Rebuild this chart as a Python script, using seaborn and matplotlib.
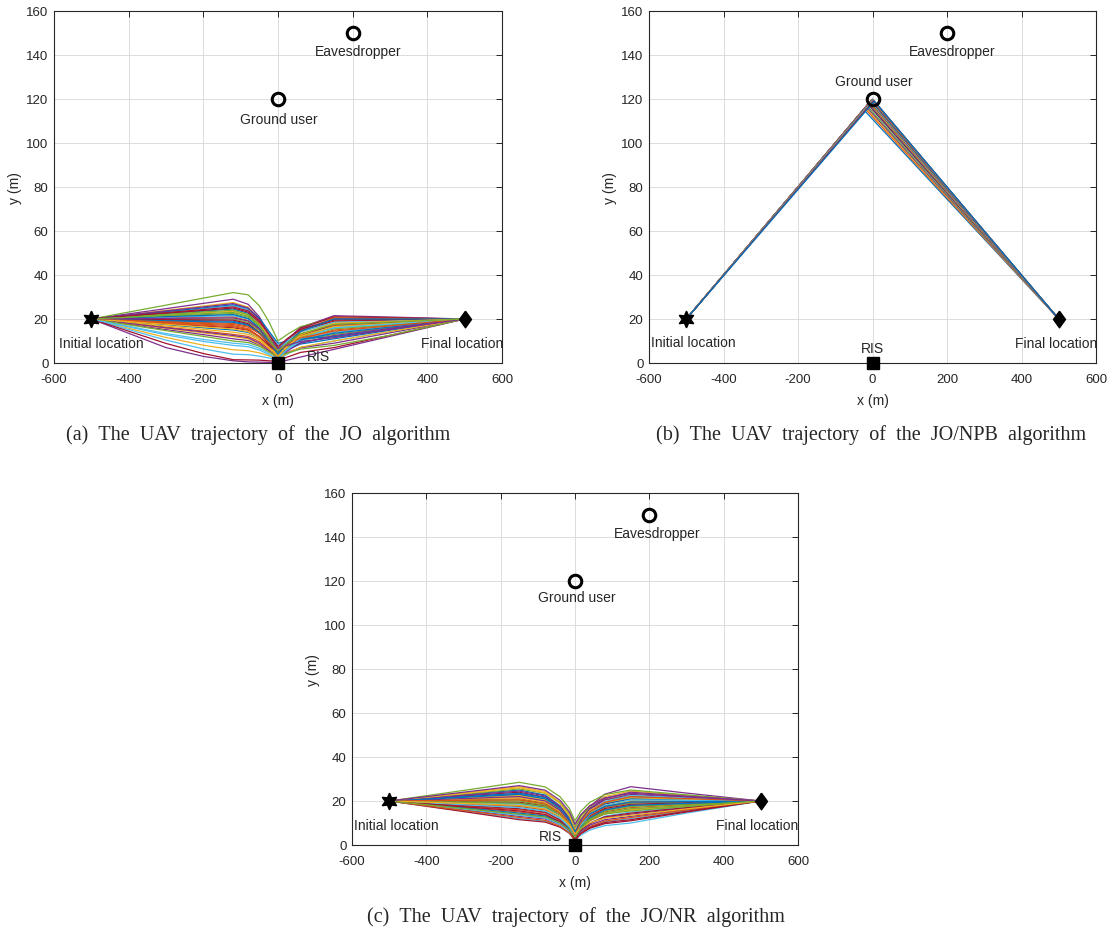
import numpy as np
import pandas as pd
import matplotlib
matplotlib.use("Agg")
import matplotlib.pyplot as plt
import seaborn as sns

sns.set_theme(style="white")
plt.rcParams["font.family"] = ["Liberation Sans", "DejaVu Sans"]
plt.rcParams["axes.unicode_minus"] = False

# ---------------- data ----------------
MATLAB_COLORS = ["#0072BD", "#D95319", "#EDB120", "#7E2F8E", "#77AC30", "#4DBEEE", "#A2142F"]

initial_location = (-500, 20)
final_location = (500, 20)
ris_location = (0, 0)
ground_user = (0, 120)
eavesdropper = (200, 150)

x_ticks = [-600, -400, -200, 0, 200, 400, 600]
y_ticks = [0, 20, 40, 60, 80, 100, 120, 140, 160]

# (a) JO algorithm: sampled trajectory points (x, y in m)
x_jo = [-500, -300, -200, -120, -80, -50, -25, 0, 25, 60, 150, 300, 500]
y_jo = [
    [20, 22.4, 23.6, 24.5, 22.6, 17.7, 11.2, 5, 8.6, 12.8, 17, 18.3, 20],
    [20, 20.5, 20.8, 21, 19.3, 15.1, 9.4, 4, 7, 10.5, 14, 16.6, 20],
    [20, 23.9, 25.9, 27.5, 25.4, 20.3, 13.6, 7, 10.6, 14.8, 19, 19.4, 20],
    [20, 24.7, 27.1, 29, 26.7, 21, 13.4, 6, 10.7, 16.1, 21.5, 20.9, 20],
    [20, 26.3, 29.5, 32, 31, 26, 19, 10, 13, 16.5, 20.5, 20.3, 20],
    [20, 23.2, 24.7, 26, 24.2, 19.7, 13.8, 8, 10.4, 13.2, 16, 17.7, 20],
    [20, 22.6, 23.9, 25, 23.1, 18.4, 12.1, 6, 10.5, 15.8, 21, 20.6, 20],
    [20, 19.5, 19.2, 19, 17.5, 13.8, 8.8, 4, 6.4, 9.2, 12, 15.4, 20],
    [20, 18.4, 17.6, 17, 15.6, 12.1, 7.5, 3, 6.6, 10.8, 15, 17.2, 20],
    [20, 11.6, 8.1, 6, 5.6, 4.6, 3.3, 2, 6.8, 12.4, 18, 18.9, 20],
    [20, 7, 3, 1, 0.5, 0.4, 0.3, 0.3, 1.3, 2.7, 6.2, 12.1, 20],
    [20, 21.3, 22, 22.5, 20.8, 16.4, 10.6, 5, 7.4, 10.2, 13, 16, 20],
    [20, 10.4, 6.4, 4, 3.8, 3.1, 2.3, 1.5, 4.1, 7, 10, 14.3, 20],
    [20, 8.9, 4.3, 1.5, 1.4, 1.3, 1, 0.8, 2.7, 4.8, 7, 12.6, 20],
    [20, 17.4, 16, 15, 13.9, 11.2, 7.5, 4, 6.1, 8.6, 11, 14.9, 20],
    [20, 16.3, 14.5, 13, 12.1, 9.7, 6.5, 3.5, 8.5, 14.2, 20, 20, 20],
    [20, 21.8, 22.8, 23.5, 21.9, 17.7, 12.3, 7, 10.3, 14.2, 18, 18.9, 20],
    [20, 15.2, 12.9, 11, 10.2, 8.2, 5.6, 3, 4.8, 6.9, 9, 13.7, 20],
    [20, 20, 20, 20, 18.5, 14.8, 9.8, 5, 8.3, 12.2, 16, 17.7, 20],
    [20, 13.4, 10.7, 9, 8.4, 6.7, 4.6, 2.5, 6, 10, 14, 16.6, 20],
    [20, 17.9, 16.8, 16, 14.9, 12, 8.2, 4.5, 8.9, 14.6, 19, 19.4, 20],
    [20, 23.4, 25.1, 26.5, 24.8, 20.4, 14.6, 9, 9.9, 11, 12, 15.4, 20],
    [20, 18.9, 18.4, 18, 16.8, 13.8, 9.8, 6, 9.3, 13.2, 17, 18.3, 20],
    [20, 15.8, 13.7, 12, 11, 8.5, 5.2, 2, 4.4, 7.2, 10, 14.3, 20],
    [20, 23.7, 25.5, 27, 25, 19.8, 13.1, 6.5, 10.6, 15.3, 20, 20, 20],
    [20, 22.1, 23.2, 24, 22, 17.2, 10.7, 4.5, 7.8, 11.7, 15.5, 17.4, 20],
    [20, 20.8, 21.2, 21.5, 20, 16.1, 11, 6, 9.8, 14.1, 18.5, 19.1, 20],
    [20, 19.7, 19.6, 19.5, 17.9, 13.9, 8.6, 3.5, 7.7, 12.6, 17.5, 18.6, 20],
    [20, 19.2, 18.8, 18.5, 17.2, 13.8, 9.3, 5, 7.6, 10.5, 13.5, 16.3, 20],
    [20, 18.1, 17.2, 16.5, 15.2, 11.8, 7.3, 3, 8.3, 14.4, 20.5, 20.3, 20],
    [20, 16.8, 15.3, 14, 13, 10.5, 7.2, 4, 7.8, 12.1, 16.5, 18, 20],
    [20, 16, 14.1, 12.5, 11.5, 9, 5.7, 2.5, 5.5, 9, 12.5, 15.7, 20],
    [20, 14.7, 12.1, 10, 9.3, 7.6, 5.2, 3, 4.5, 6.3, 8, 12.6, 20],
    [20, 12.8, 9.8, 8, 7.4, 5.9, 3.9, 2, 6.2, 11.1, 16, 17.7, 20],
    [20, 22.9, 24.3, 25.5, 23.7, 19.2, 13.3, 7.5, 11.1, 15.3, 19.5, 19.7, 20],
    [20, 21.1, 21.6, 22, 20.2, 15.7, 9.8, 4, 8.8, 14.4, 20, 20, 20],
    [20, 18.7, 18, 17.5, 16.3, 13.3, 9.3, 5.5, 8.2, 11.4, 14.5, 16.9, 20],
    [20, 17.6, 16.4, 15.5, 14.3, 11.1, 7, 3, 7.5, 12.8, 18, 18.9, 20],
    [20, 20.3, 20.4, 20.5, 19.1, 15.6, 11, 6.5, 8, 9.8, 11.5, 15.2, 20],
    [20, 21.6, 22.4, 23, 21.3, 16.9, 11.1, 5.5, 9.1, 13.3, 17.5, 18.6, 20],
]

# (b) JO/NPB algorithm: turning points near the ground user
apex_x_npb = [-24, -21, -19, -17, -15, -13, -12, -10, -9, -8, -7, -6, -5, -4, -3, -2, -1, 0, 1, 2, 3, 5]
apex_y_npb = [115.2, 115.8, 116.2, 116.6, 117, 117.4, 117.6, 118, 118.2, 118.4, 118.6, 118.8,
              119, 119.2, 119.4, 119.6, 119.8, 120, 119.7, 119.5, 119.3, 119]

# (c) JO/NR algorithm: sampled trajectory points
x_nr = [-500, -300, -150, -80, -40, -15, 0, 15, 40, 80, 150, 300, 500]
y_nr = [
    [20, 22.9, 25, 22.7, 17.8, 12.1, 6, 10.8, 15.6, 19.6, 22, 21.1, 20],
    [20, 20.6, 21, 19.1, 14.9, 10.1, 5, 8.9, 12.8, 16.1, 18, 18.9, 20],
    [20, 23.7, 26.5, 24.3, 19.5, 13.9, 8, 13, 17.9, 22, 24.5, 22.5, 20],
    [20, 21.7, 23, 20.7, 15.8, 10.1, 4, 10.8, 17.5, 23.1, 26.5, 23.6, 20],
    [20, 24.8, 28.5, 26.4, 21.9, 16.6, 11, 15.2, 19.4, 22.9, 25, 22.8, 20],
    [20, 18.3, 17, 15.3, 11.7, 7.5, 3, 5.7, 8.4, 10.7, 12, 15.6, 20],
    [20, 22.3, 24, 21.7, 16.8, 11.1, 5, 9.8, 14.6, 18.6, 21, 20.6, 20],
    [20, 19.4, 19, 17.2, 13.3, 8.8, 4, 8.8, 13.6, 17.6, 20, 20, 20],
    [20, 17.2, 15, 13.6, 10.6, 7.2, 3.5, 7.3, 11, 14.1, 16, 17.8, 20],
    [20, 21.1, 22, 20.2, 16.3, 11.8, 7, 12, 16.9, 21, 23.5, 21.9, 20],
    [20, 16, 13, 11.8, 9.2, 6.2, 3, 6.3, 9.6, 12.4, 14, 16.7, 20],
    [20, 20.3, 20.5, 18.8, 15, 10.6, 6, 9.9, 13.8, 17.1, 19, 19.5, 20],
    [20, 15.4, 12, 10.8, 8.2, 5.2, 2, 4.4, 6.8, 8.8, 10, 14.5, 20],
    [20, 15.2, 11.5, 10.4, 8.1, 5.4, 2.5, 5.1, 7.6, 9.7, 11, 15, 20],
    [20, 18.9, 18, 16.4, 13.1, 9.2, 5, 10, 14.9, 19, 21.5, 20.8, 20],
    [20, 17.7, 16, 14.6, 11.4, 7.8, 4, 7.9, 11.8, 15.1, 17, 18.4, 20],
    [20, 21.4, 22.5, 20.6, 16.4, 11.6, 6.5, 10.6, 14.6, 18, 20, 20, 20],
    [20, 16.6, 14, 12.7, 9.8, 6.5, 3, 6, 9, 11.5, 13, 16.2, 20],
    [20, 23.1, 25.5, 23.5, 19.2, 14.3, 9, 13.1, 17.1, 20.5, 22.5, 21.4, 20],
    [20, 16.3, 13.5, 12.2, 9.3, 6, 2.5, 6.3, 10, 13.1, 15, 17.3, 20],
    [20, 19.7, 19.5, 17.8, 14.2, 10, 5.5, 9.4, 13.3, 16.6, 18.5, 19.2, 20],
    [20, 22, 23.5, 21.6, 17.4, 12.6, 7.5, 11.6, 15.6, 19, 21, 20.6, 20],
    [20, 18.6, 17.5, 15.9, 12.6, 8.7, 4.5, 9, 13.5, 17.3, 19.5, 19.7, 20],
    [20, 20.9, 21.5, 19.5, 15.2, 10.3, 5, 8.3, 11.6, 14.4, 16, 17.8, 20],
    [20, 22.6, 24.5, 22.3, 17.5, 11.9, 6, 11.1, 16.2, 20.5, 23, 21.6, 20],
    [20, 20, 20, 18.1, 13.9, 9.1, 4, 8.1, 12.1, 15.5, 17.5, 18.6, 20],
    [20, 19.1, 18.5, 16.7, 12.8, 8.3, 3.5, 9.2, 14.9, 19.7, 22.5, 21.4, 20],
    [20, 18, 16.5, 14.9, 11.4, 7.3, 3, 6.5, 9.9, 12.8, 14.5, 17, 20],
    [20, 16.9, 14.5, 13.2, 10.5, 7.4, 4, 8.2, 12.4, 15.9, 18, 18.9, 20],
    [20, 15.7, 12.5, 11.2, 8.5, 5.4, 2, 5.2, 8.3, 10.9, 12.5, 15.9, 20],
    [20, 23.4, 26, 23.7, 18.8, 13.1, 7, 11.4, 15.7, 19.3, 21.5, 20.8, 20],
    [20, 21.1, 22, 20, 15.7, 10.8, 5.5, 11.1, 16.6, 21.2, 24, 22.2, 20],
    [20, 19.4, 19, 17.4, 14.1, 10.2, 6, 8.9, 11.7, 14.1, 15.5, 17.5, 20],
    [20, 18.3, 17, 15.4, 12.1, 8.2, 4, 9, 13.9, 18, 20.5, 20.3, 20],
    [20, 17.4, 15.5, 13.9, 10.6, 6.7, 2.5, 5.2, 7.9, 10.2, 11.5, 15.3, 20],
    [20, 21.7, 23, 21, 16.5, 11.4, 6, 10.1, 14.1, 17.5, 19.5, 19.7, 20],
    [20, 20.3, 20.5, 18.6, 14.4, 9.6, 4.5, 9.8, 15, 19.4, 22, 21.1, 20],
    [20, 18.9, 18, 16.4, 13.1, 9.2, 5, 7.6, 10.1, 12.2, 13.5, 16.4, 20],
    [20, 24, 27, 24.9, 20.3, 15.1, 9.5, 13.7, 17.9, 21.4, 23.5, 21.9, 20],
    [20, 16.6, 14, 12.7, 10, 6.9, 3.5, 7.4, 11.3, 14.6, 16.5, 17.9, 20],
]

captions = [
    "(a)\u2002The\u2002UAV\u2002trajectory\u2002of\u2002the\u2002JO\u2002algorithm",
    "(b)\u2002The\u2002UAV\u2002trajectory\u2002of\u2002the\u2002JO/NPB\u2002algorithm",
    "(c)\u2002The\u2002UAV\u2002trajectory\u2002of\u2002the\u2002JO/NR\u2002algorithm",
]


def to_frame(xs_list, ys_list):
    rows = []
    for i, (xs, ys) in enumerate(zip(xs_list, ys_list)):
        for j, (xv, yv) in enumerate(zip(xs, ys)):
            rows.append({"traj": i, "order": j, "x": xv, "y": yv})
    return pd.DataFrame(rows)


df_a = to_frame([x_jo] * len(y_jo), y_jo)
df_b = to_frame(
    [[initial_location[0], ax_, final_location[0]] for ax_ in apex_x_npb],
    [[initial_location[1], ay_, final_location[1]] for ay_ in apex_y_npb],
)
df_c = to_frame([x_nr] * len(y_nr), y_nr)

# ---------------- figure ----------------
W, H = 1108, 929
fig = plt.figure(figsize=(W / 100, H / 100), dpi=100)


def px_axes(left, top, right, bottom):
    return fig.add_axes([left / W, 1 - bottom / H, (right - left) / W, (bottom - top) / H])


ax_a = px_axes(54, 12, 502, 364)
ax_b = px_axes(649, 12, 1096, 364)
ax_c = px_axes(352, 494, 798, 846)

diamond = [(0, 1), (0.72, 0), (0, -1), (-0.72, 0), (0, 1)]
dark = "#262626"


def style_axes(ax):
    ax.set_xlim(-600, 600)
    ax.set_ylim(0, 160)
    ax.set_xticks(x_ticks)
    ax.set_yticks(y_ticks)
    ax.grid(True, color="#dcdcdc", linewidth=0.7)
    ax.set_axisbelow(True)
    ax.tick_params(direction="in", length=4, width=0.7, top=True, right=True,
                   labelsize=9.5, colors=dark)
    ax.tick_params(axis="x", pad=7)
    ax.tick_params(axis="y", pad=4)
    for sp in ax.spines.values():
        sp.set_color(dark)
        sp.set_linewidth(0.8)
    ax.set_xlabel("x (m)", fontsize=10, color=dark, labelpad=6)
    ax.set_ylabel("y (m)", fontsize=10, color=dark, labelpad=3)


def draw_points(ax):
    ax.plot(*initial_location, marker=(6, 1, 0), markersize=12, color="black", zorder=5, clip_on=False)
    ax.plot(*final_location, marker=diamond, markersize=12, color="black", zorder=5, clip_on=False)
    ax.plot(*ris_location, marker="s", markersize=9, color="black", zorder=5, clip_on=False)
    for pt in (ground_user, eavesdropper):
        ax.plot(*pt, marker="o", markersize=9, markerfacecolor="none",
                markeredgecolor="black", markeredgewidth=2.2, zorder=5)


def draw_lines(ax, df, lw=0.9):
    n = df["traj"].nunique()
    pal = [MATLAB_COLORS[i % 7] for i in range(n)]
    sns.lineplot(data=df, x="x", y="y", hue="traj", units="traj", estimator=None,
                 sort=False, palette=pal, legend=False, linewidth=lw, ax=ax)


fs = 10
# (a)
draw_lines(ax_a, df_a)
draw_points(ax_a)
ax_a.text(3, 111, "Ground user", ha="center", va="center", fontsize=fs)
ax_a.text(214, 142, "Eavesdropper", ha="center", va="center", fontsize=fs)
ax_a.text(-473, 9, "Initial location", ha="center", va="center", fontsize=fs)
ax_a.text(492, 9, "Final location", ha="center", va="center", fontsize=fs)
ax_a.text(107, 3.2, "RIS", ha="center", va="center", fontsize=fs)

# (b)
draw_lines(ax_b, df_b)
draw_points(ax_b)
ax_b.text(3, 128, "Ground user", ha="center", va="center", fontsize=fs)
ax_b.text(214, 142, "Eavesdropper", ha="center", va="center", fontsize=fs)
ax_b.text(-480, 9.5, "Initial location", ha="center", va="center", fontsize=fs)
ax_b.text(492, 9, "Final location", ha="center", va="center", fontsize=fs)
ax_b.text(0, 7, "RIS", ha="center", va="center", fontsize=fs)

# (c)
draw_lines(ax_c, df_c)
draw_points(ax_c)
ax_c.text(5, 112.6, "Ground user", ha="center", va="center", fontsize=fs)
ax_c.text(221, 142, "Eavesdropper", ha="center", va="center", fontsize=fs)
ax_c.text(-481, 9, "Initial location", ha="center", va="center", fontsize=fs)
ax_c.text(491, 9, "Final location", ha="center", va="center", fontsize=fs)
ax_c.text(-65, 4.2, "RIS", ha="center", va="center", fontsize=fs)

for ax in (ax_a, ax_b, ax_c):
    style_axes(ax)

serif = ["Liberation Serif", "DejaVu Serif"]
fig.text(258 / W, 1 - 435 / H, captions[0], ha="center", va="center", fontsize=14.5, family=serif)
fig.text(871 / W, 1 - 435 / H, captions[1], ha="center", va="center", fontsize=14.5, family=serif)
fig.text(576 / W, 1 - 917 / H, captions[2], ha="center", va="center", fontsize=14.5, family=serif)

fig.savefig("out.png", dpi=100, facecolor="white")
